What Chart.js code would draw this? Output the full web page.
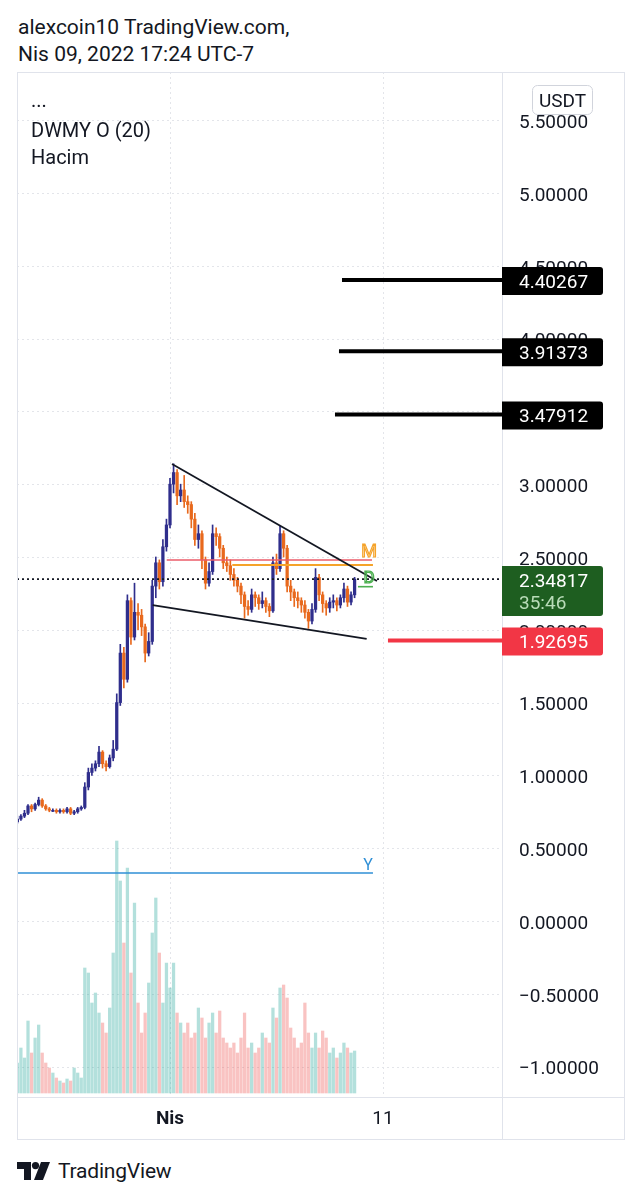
<!DOCTYPE html>
<html>
<head>
<meta charset="utf-8">
<script src="https://cdn.jsdelivr.net/npm/chart.js@4.4.0/dist/chart.umd.min.js"></script>
<style>
  html, body { margin: 0; padding: 0; background: #fff; }
  body { width: 640px; height: 1200px; position: relative; overflow: hidden;
         font-family: Roboto, "Noto Sans", sans-serif; color: #131722; }
  .hdr { position: absolute; left: 18px; font-size: 21px; line-height: 21px; white-space: nowrap; }
  .legend { position: absolute; left: 31px; font-size: 20px; line-height: 20px; white-space: nowrap; z-index: 2; }
  #chartBox { position: absolute; left: 17px; top: 72px; width: 608px; height: 1068px; }
  #footer { position: absolute; left: 17px; top: 1160px; height: 22px; display: flex; align-items: center; }
  #footer span { font-size: 21px; margin-left: 7px; letter-spacing: -0.2px; }
</style>
</head>
<body>
<div class="hdr" style="top:17px">alexcoin10 TradingView.com,</div>
<div class="hdr" style="top:44px">Nis 09, 2022 17:24 UTC-7</div>

<div id="chartBox"><canvas id="tvChart" width="608" height="1068"></canvas></div>

<div class="legend" style="top:90px">...</div>
<div class="legend" style="top:120px">DWMY O (20)</div>
<div class="legend" style="top:147px">Hacim</div>

<div id="footer">
  <svg width="34" height="18" viewBox="0 0 34 18">
    <path d="M0 0h14v18h-7v-11h-7z" fill="#131722"/>
    <circle cx="18.5" cy="3.6" r="3.6" fill="#131722"/>
    <path d="M24 0h9l-7 18h-9z" fill="#131722"/>
  </svg>
  <span>TradingView</span>
</div>

<script>
document.addEventListener('DOMContentLoaded', function() {
	// Colours
	const upColor = '#2f2e8c',
		downColor = '#e8691d',
		volUpColor = 'rgba(38,166,154,0.35)',
		volDownColor = 'rgba(239,83,80,0.35)',
		textColor = '#131722',
		lineGrey = '#e0e3eb';

	// Candles: 4h bars, hours counted from Nis 1 00:00
	const firstCandleHour = -172, candleHours = 4;

	const opens = [
		0.68,0.70,0.72,0.74,0.79,0.77,0.80,0.83,0.79,0.77,
		0.76,0.76,0.75,0.76,0.75,0.77,0.74,0.75,0.77,0.78,
		0.92,1.02,1.05,1.08,1.16,1.08,1.06,1.12,1.18,1.50,
		1.84,1.66,2.20,1.95,2.12,2.10,2.02,1.84,1.92,2.30,
		2.46,2.33,2.57,2.72,3.00,3.08,2.92,2.96,2.88,2.86,
		2.76,2.62,2.66,2.48,2.32,2.40,2.66,2.64,2.56,2.46,
		2.44,2.38,2.34,2.30,2.24,2.16,2.14,2.24,2.22,2.18,
		2.20,2.16,2.13,2.46,2.42,2.66,2.56,2.30,2.26,2.22,
		2.20,2.17,2.12,2.06,2.14,2.36,2.24,2.18,2.15,2.19,
		2.20,2.17,2.22,2.28,2.19,2.24];
	const highs = [
		0.72,0.73,0.76,0.80,0.80,0.81,0.85,0.84,0.80,0.78,
		0.77,0.77,0.77,0.77,0.78,0.78,0.76,0.78,0.79,0.95,
		1.05,1.08,1.10,1.20,1.17,1.10,1.14,1.24,1.56,1.90,
		1.88,2.24,2.22,2.32,2.18,2.14,2.04,1.98,2.34,2.50,
		2.48,2.62,2.76,3.04,3.14,3.10,3.00,3.06,2.92,2.88,
		2.80,2.72,2.68,2.50,2.46,2.72,2.70,2.66,2.58,2.50,
		2.48,2.42,2.36,2.32,2.26,2.20,2.28,2.26,2.24,2.26,
		2.22,2.18,2.50,2.52,2.71,2.68,2.58,2.34,2.28,2.26,
		2.22,2.20,2.14,2.18,2.42,2.38,2.26,2.20,2.22,2.24,
		2.22,2.24,2.32,2.30,2.26,2.36];
	const lows = [
		0.67,0.69,0.71,0.73,0.75,0.76,0.79,0.78,0.76,0.75,
		0.75,0.74,0.74,0.74,0.74,0.73,0.73,0.74,0.76,0.77,
		0.90,1.00,1.03,1.06,1.05,1.03,1.05,1.10,1.17,1.48,
		1.60,1.64,1.90,1.93,2.00,1.96,1.78,1.82,1.90,2.22,
		2.28,2.30,2.54,2.70,2.94,2.86,2.88,2.84,2.80,2.70,
		2.58,2.56,2.42,2.28,2.30,2.38,2.58,2.50,2.42,2.40,
		2.34,2.30,2.26,2.18,2.08,2.10,2.12,2.16,2.14,2.15,
		2.12,2.09,2.12,2.38,2.40,2.50,2.26,2.20,2.16,2.15,
		2.12,2.08,2.01,2.04,2.12,2.20,2.12,2.10,2.12,2.15,
		2.13,2.15,2.19,2.16,2.17,2.22];
	const closes = [
		0.70,0.72,0.74,0.79,0.77,0.80,0.83,0.79,0.77,0.76,
		0.76,0.75,0.76,0.75,0.77,0.74,0.75,0.77,0.78,0.92,
		1.02,1.05,1.08,1.16,1.08,1.06,1.12,1.18,1.50,1.84,
		1.66,2.20,1.95,2.12,2.10,2.02,1.84,1.92,2.30,2.46,
		2.33,2.57,2.72,3.00,3.08,2.92,2.96,2.88,2.86,2.76,
		2.62,2.66,2.48,2.32,2.40,2.66,2.64,2.56,2.46,2.44,
		2.38,2.34,2.30,2.24,2.16,2.14,2.24,2.22,2.18,2.20,
		2.16,2.13,2.46,2.42,2.66,2.56,2.30,2.26,2.22,2.20,
		2.17,2.12,2.06,2.14,2.36,2.24,2.18,2.15,2.19,2.20,
		2.17,2.22,2.28,2.19,2.24,2.348];
	// Hacim (volume), arbitrary units
	const volumes = [
		30,45,35,72,40,55,68,40,30,25,
		20,15,12,10,14,12,25,20,15,125,
		120,90,100,80,70,60,85,140,252,212,
		150,225,120,190,90,60,80,110,160,195,
		140,90,130,105,130,80,70,60,70,55,
		60,85,75,55,70,80,60,82,55,50,
		45,50,40,55,80,45,50,40,45,60,
		55,50,85,75,105,108,95,65,55,45,
		50,90,60,45,60,45,62,55,40,45,
		35,40,50,45,40,42];

	// Axis ticks
	const priceTicks = [-1, -0.5, 0, 0.5, 1, 1.5, 2, 2.5, 3, 3.5, 4, 4.5, 5, 5.5];
	const timeTickHours = [0, 240];
	const timeTickLabels = ['Nis', '11'];

	// Drawings (hour, price)
	const upperTrend = [[2.25, 3.139], [233.2, 2.335]];
	const lowerTrend = [[-19.5, 2.170], [221.6, 1.937]];
	const levelM = [[-3.7, 2.479], [227.6, 2.479]];
	const levelOrange = [[70.2, 2.445], [228.7, 2.445]];
	const levelD = [[211.8, 2.296], [228.7, 2.296]];
	const levelY = [[-172.4, 0.33], [228.7, 0.33]];
	const targetPrices = [4.40267, 3.91373, 3.47912];
	const targetStarts = [193.8, 190.4, 185.9];
	const stopPrice = 1.92695, stopStart = 245.6;
	const lastPrice = 2.34817, countdown = '35:46';

	const xMin = -172.4, xMax = 374.1, yMin = -1.209, yMax = 5.831;

	const times = opens.map((o, i) => firstCandleHour + i * candleHours);
	const isUp = closes.map((c, i) => c >= opens[i]);
	const fmt = v => (v < 0 ? '\u2212' : '') + Math.abs(v).toFixed(5);
	const pts = arr => arr.map(p => ({ x: p[0], y: p[1] }));
	const font = { family: 'Roboto, "Noto Sans", sans-serif', size: 19 };

	function seg(data, color, width, dash) {
		return {
			type: 'line', data: pts(data), borderColor: color, borderWidth: width,
			borderDash: dash || [], pointRadius: 0, fill: false, order: 1, yAxisID: 'y'
		};
	}

	const datasets = [
		{
			type: 'bar', label: 'Hacim', yAxisID: 'yv', grouped: false, order: 10,
			data: volumes.map((v, i) => ({ x: times[i], y: v })),
			backgroundColor: isUp.map(u => u ? volUpColor : volDownColor),
			barThickness: 2.6, borderWidth: 0
		},
		{
			type: 'bar', label: 'wick', yAxisID: 'y', grouped: false, order: 6,
			data: times.map((t, i) => ({ x: t, y: [lows[i], highs[i]] })),
			backgroundColor: isUp.map(u => u ? upColor : downColor),
			barThickness: 1, borderWidth: 0
		},
		{
			type: 'bar', label: 'body', yAxisID: 'y', grouped: false, order: 5,
			data: times.map((t, i) => ({ x: t, y: [opens[i], closes[i]] })),
			backgroundColor: isUp.map(u => u ? upColor : downColor),
			barThickness: 2.6, minBarLength: 1, borderWidth: 0
		},
		seg(upperTrend, '#131722', 1.8),
		seg(lowerTrend, '#131722', 1.8),
		seg(levelM, '#eb5d6a', 1.6),
		seg(levelOrange, '#f5a32a', 2),
		seg(levelD, '#4caf50', 1.6),
		seg(levelY, '#2f8fd6', 1.6),
		seg([[xMin, lastPrice], [xMax, lastPrice]], '#131722', 1.6, [2, 3])
	];
	targetPrices.forEach((p, i) => datasets.push(seg([[targetStarts[i], p], [xMax, p]], '#000', 4)));
	datasets.push(seg([[stopStart, stopPrice], [xMax, stopPrice]], '#f23645', 4));

	// Grid + labels + price tags
	const tvPlugin = {
		id: 'tvDecor',
		beforeDatasetsDraw(chart) {
			const { ctx, chartArea: a, scales: { x, y } } = chart;
			ctx.save();
			ctx.strokeStyle = '#e3e5ea';
			ctx.lineWidth = 1;
			ctx.setLineDash([2, 3]);
			priceTicks.forEach(v => {
				const py = Math.round(y.getPixelForValue(v)) + 0.5;
				ctx.beginPath(); ctx.moveTo(a.left, py); ctx.lineTo(a.right, py); ctx.stroke();
			});
			timeTickHours.forEach(v => {
				const px = Math.round(x.getPixelForValue(v)) + 0.5;
				ctx.beginPath(); ctx.moveTo(px, a.top); ctx.lineTo(px, a.bottom); ctx.stroke();
			});
			ctx.restore();
		},
		afterDatasetsDraw(chart) {
			const { ctx, scales: { x, y } } = chart;
			ctx.save();
			ctx.textAlign = 'center';
			ctx.textBaseline = 'middle';
			ctx.font = '18px Roboto, sans-serif';
			ctx.lineWidth = 1.2;
			ctx.strokeStyle = '#f5a32a';
			ctx.strokeText('M', x.getPixelForValue(levelM[1][0]) - 3, y.getPixelForValue(levelM[1][1]) - 8);
			ctx.strokeStyle = '#4caf50';
			ctx.font = '17px Roboto, sans-serif';
			ctx.strokeText('D', x.getPixelForValue(levelD[1][0]) - 4, y.getPixelForValue(levelD[1][1]) - 8);
			ctx.fillStyle = '#2f8fd6';
			ctx.font = '16px Roboto, sans-serif';
			ctx.fillText('Y', x.getPixelForValue(levelY[1][0]) - 5, y.getPixelForValue(levelY[1][1]) - 7);
			ctx.restore();
		},
		afterDraw(chart) {
			const { ctx, chartArea: a, scales: { y }, width, height } = chart;
			ctx.save();
			// frame
			ctx.strokeStyle = lineGrey;
			ctx.lineWidth = 1;
			ctx.strokeRect(0.5, 0.5, width - 1, height - 1);
			ctx.beginPath();
			ctx.moveTo(a.right + 0.5, 0); ctx.lineTo(a.right + 0.5, height);
			ctx.moveTo(0, a.bottom + 0.5); ctx.lineTo(width, a.bottom + 0.5);
			ctx.stroke();

			function tag(price, bg, h, lines) {
				const py = y.getPixelForValue(price);
				ctx.fillStyle = bg;
				ctx.beginPath();
				ctx.roundRect(a.right, py - 13, 101, h, [0, 3, 3, 0]);
				ctx.fill();
				ctx.textAlign = 'left';
				ctx.textBaseline = 'middle';
				ctx.font = '19px Roboto, sans-serif';
				lines.forEach((l, i) => {
					ctx.fillStyle = l[1];
					ctx.fillText(l[0], a.right + 17, py + 3 + i * 22);
				});
			}
			targetPrices.forEach(p => tag(p, '#000', 28, [[p.toFixed(5), '#fff']]));
			tag(lastPrice, '#1e5e20', 50, [[lastPrice.toFixed(5), '#fff'], [countdown, '#b9dcb8']]);
			tag(stopPrice, '#f23645', 28, [[stopPrice.toFixed(5), '#fff']]);

			// currency box
			ctx.strokeStyle = '#d1d4dc';
			ctx.fillStyle = '#fff';
			ctx.beginPath();
			ctx.roundRect(a.right + 30.5, 13.5, 60, 29, 5);
			ctx.fill();
			ctx.stroke();
			ctx.fillStyle = textColor;
			ctx.textAlign = 'center';
			ctx.textBaseline = 'middle';
			ctx.font = '19px Roboto, sans-serif';
			ctx.fillText('USDT', a.right + 60.5, 30);
			ctx.restore();
		}
	};

	new Chart(document.getElementById('tvChart'), {
		type: 'bar',
		data: { datasets: datasets },
		options: {
			responsive: false,
			animation: false,
			events: [],
			layout: { padding: 0 },
			plugins: { legend: { display: false }, tooltip: { enabled: false } },
			scales: {
				x: {
					type: 'linear', position: 'bottom', min: xMin, max: xMax, offset: false,
					grid: { display: false, drawTicks: false }, border: { display: false },
					ticks: {
						padding: 11, color: textColor, maxRotation: 0, autoSkip: false,
						font: c => ({ family: font.family, size: 19, weight: c.tick && c.tick.value === 0 ? 'bold' : 'normal' }),
						callback: (v, i) => timeTickLabels[i]
					},
					afterBuildTicks: s => { s.ticks = timeTickHours.map(v => ({ value: v })); },
					afterFit: s => { s.height = 43; s.paddingLeft = 0; s.paddingRight = 0; }
				},
				y: {
					type: 'linear', position: 'right', min: yMin, max: yMax,
					grid: { display: false, drawTicks: false }, border: { display: false },
					ticks: { padding: 17, labelOffset: 3, color: textColor, font: font, autoSkip: false, callback: v => fmt(v) },
					afterBuildTicks: s => { s.ticks = priceTicks.map(v => ({ value: v })); },
					afterFit: s => { s.width = 123; s.paddingTop = 0; s.paddingBottom = 0; }
				},
				yv: { type: 'linear', display: false, min: -4, max: 1021 }
			}
		},
		plugins: [tvPlugin]
	});
});
</script>
</body>
</html>
